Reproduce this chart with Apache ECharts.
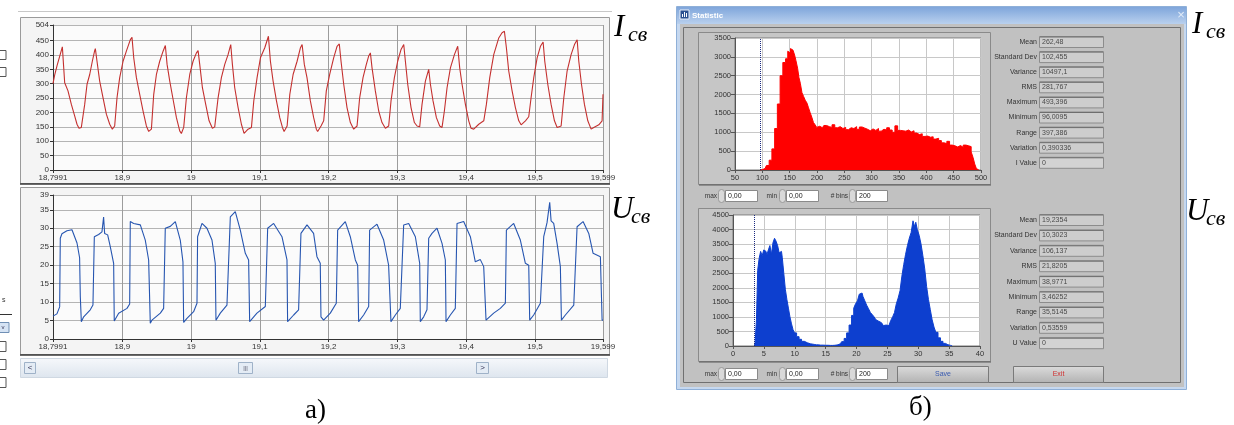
<!DOCTYPE html>
<html><head><meta charset="utf-8">
<script src="https://cdn.jsdelivr.net/npm/echarts@6/dist/echarts.min.js"></script>
<style>html,body{margin:0;padding:0;background:#fff}#c{width:1234px;height:425px}</style>
</head><body><div id="c"></div>
<script>
// ---------- data ----------
const timeTicks = [18.7991, 18.9, 19.0, 19.1, 19.2, 19.3, 19.4, 19.5, 19.599];
const currentTicks = [0, 50, 100, 150, 200, 250, 300, 350, 400, 450, 504];
const voltageTicks = [0, 5, 10, 15, 20, 25, 30, 35, 39];

const currentSignal = [
[18.7991,300],[18.8015,330],[18.8049,362],[18.8088,395],[18.8127,428],[18.8161,303],[18.8209,275],[18.8258,228],[18.8306,188],[18.8340,159],[18.8369,145],[18.8403,148],[18.8428,153],[18.8452,228],[18.8486,298],[18.8525,332],[18.8563,378],[18.8597,415],[18.8607,422],
[18.8631,378],[18.8670,309],[18.8719,251],[18.8767,194],[18.8816,159],[18.8854,142],[18.8888,153],[18.8922,251],[18.8961,321],[18.9010,378],[18.9058,413],[18.9116,453],[18.9140,461],
[18.9165,390],[18.9204,321],[18.9252,263],[18.9301,205],[18.9349,153],[18.9383,134],[18.9422,142],[18.9456,263],[18.9495,332],[18.9543,378],[18.9592,413],[18.9625,433],
[18.9650,367],[18.9689,309],[18.9737,246],[18.9786,182],[18.9834,136],[18.9858,127],[18.9892,148],[18.9931,251],[18.9980,332],[19.0028,378],[19.0077,407],[19.0101,415],
[19.0125,367],[19.0164,286],[19.0212,228],[19.0261,171],[19.0309,145],[19.0343,150],[19.0392,251],[19.0440,321],[19.0489,367],[19.0537,401],[19.0576,436],
[19.0600,367],[19.0634,286],[19.0683,217],[19.0731,159],[19.0770,127],[19.0828,142],[19.0877,148],[19.0911,240],[19.0959,321],[19.1008,390],[19.1071,425],[19.1124,465],
[19.1153,378],[19.1192,309],[19.1241,240],[19.1289,182],[19.1328,148],[19.1352,134],[19.1396,153],[19.1435,263],[19.1483,332],[19.1541,378],[19.1590,425],[19.1614,436],
[19.1646,367],[19.1685,321],[19.1734,240],[19.1782,182],[19.1821,142],[19.1840,134],[19.1889,153],[19.1928,171],[19.1966,275],[19.2015,332],[19.2073,390],[19.2122,430],[19.2155,438],
[19.2180,378],[19.2219,298],[19.2267,217],[19.2316,165],[19.2364,142],[19.2413,153],[19.2451,251],[19.2500,321],[19.2548,367],[19.2582,396],[19.2607,407],
[19.2631,355],[19.2679,275],[19.2728,205],[19.2776,165],[19.2825,145],[19.2873,153],[19.2907,240],[19.2956,321],[19.3004,378],[19.3053,419],[19.3092,436],
[19.3116,378],[19.3150,298],[19.3198,217],[19.3247,165],[19.3286,153],[19.3324,150],[19.3358,228],[19.3407,309],[19.3455,350],
[19.3480,298],[19.3518,240],[19.3567,182],[19.3615,153],[19.3649,148],[19.3683,205],[19.3722,286],[19.3771,355],[19.3829,401],[19.3877,430],
[19.3906,355],[19.3940,298],[19.3989,228],[19.4037,171],[19.4071,145],[19.4110,142],[19.4183,159],[19.4256,171],[19.4294,228],[19.4343,321],[19.4401,401],[19.4474,459],[19.4522,477],[19.4556,482],
[19.4585,425],[19.4619,344],[19.4668,275],[19.4716,217],[19.4765,171],[19.4799,157],[19.4862,171],[19.4910,185],[19.4944,251],[19.4983,321],[19.5032,390],[19.5080,430],[19.5119,445],
[19.5143,378],[19.5187,298],[19.5235,228],[19.5284,171],[19.5323,148],[19.5347,142],[19.5381,153],[19.5420,251],[19.5468,344],[19.5526,401],[19.5575,436],[19.5614,453],
[19.5638,378],[19.5677,298],[19.5720,228],[19.5769,171],[19.5817,142],[19.5856,148],[19.5929,157],[19.5977,171],[19.5990,263]
];

const voltageSignal = [
[18.7991,6.2],[18.8048,6.8],[18.8088,8.7],[18.8097,27.3],[18.8121,28.5],[18.8194,29.3],[18.8267,29.6],[18.8340,26],[18.8378,22],[18.8388,11.5],[18.8403,4.7],
[18.8437,6],[18.8533,7.9],[18.8572,9.2],[18.8592,27.7],[18.8655,28.3],[18.8703,29],[18.8727,33],[18.8742,28.6],[18.8786,28.2],[18.8824,25],[18.8873,20.5],[18.8882,4.9],
[18.8946,7],[18.9067,8.3],[18.9106,9.5],[18.9115,31.8],[18.9164,31.3],[18.9261,30.9],[18.9333,26.8],[18.9382,21.4],[18.9406,4.3],
[18.9430,5.1],[18.9552,7],[18.9600,8.3],[18.9624,30],[18.9697,30.5],[18.9770,31.8],[18.9842,26.8],[18.9881,20.9],[18.9891,4.5],
[18.9939,5.6],[19.0036,7.4],[19.0085,9.7],[19.0094,27.7],[19.0158,31.3],[19.0230,30],[19.0303,26.8],[19.0351,20.5],[19.0361,5.1],
[19.0424,7],[19.0521,9.2],[19.0570,33.1],[19.0642,34.5],[19.0715,29.5],[19.0788,23.2],[19.0836,21.4],[19.0851,4.7],
[19.0957,7],[19.1079,8.8],[19.1113,30],[19.1200,31.3],[19.1321,27.7],[19.1394,21.4],[19.1403,4.7],
[19.1491,6.5],[19.1563,7.9],[19.1597,28.6],[19.1685,30.9],[19.1781,28.6],[19.1830,22.3],[19.1878,20.5],[19.1888,6],[19.1927,5.1],
[19.2024,7],[19.2111,9.7],[19.2131,29.5],[19.2242,31.8],[19.2315,27.7],[19.2388,21.4],[19.2422,20],[19.2436,4.7],
[19.2509,6.5],[19.2582,8.8],[19.2596,29.5],[19.2703,31.1],[19.2800,26.8],[19.2872,20],[19.2906,4.7],
[19.2970,6.5],[19.3042,8.3],[19.3091,30.9],[19.3164,31.3],[19.3261,27.7],[19.3324,20.5],[19.3333,4.7],
[19.3382,6],[19.3430,7.9],[19.3455,27.3],[19.3503,28.6],[19.3576,30],[19.3649,25.9],[19.3697,21.4],[19.3707,4.7],
[19.3770,6.5],[19.3842,8.3],[19.3867,31.3],[19.3964,31.8],[19.4061,27.7],[19.4133,20.9],[19.4206,21.5],[19.4255,19.6],[19.4289,5.1],
[19.4400,7],[19.4497,8.3],[19.4570,9.7],[19.4585,29.5],[19.4691,31.3],[19.4788,26.8],[19.4861,20.5],[19.4910,20],[19.4924,5.1],
[19.4982,6.5],[19.5079,9.7],[19.5128,27.7],[19.5176,31.5],[19.5215,37],[19.5235,32],[19.5273,31.3],[19.5322,25.9],[19.5370,19.6],[19.5385,5.1],
[19.5443,6.5],[19.5565,9.2],[19.5613,30.4],[19.5700,31.8],[19.5783,28.6],[19.5846,23.2],[19.5952,22.3],[19.5977,5.1],[19.5990,5.1]
];

const currentHist = [
[96,0],[100,10],[105,40],[110,120],[115,260],[120,560],[125,1100],[130,1750],[135,2500],[140,2850],[145,2950],[148,3150],[150,3100],[153,3220],[156,3180],[158,3210],[160,3050],[163,2900],[166,2700],[168,2450],[171,2300],[174,2050],[177,1950],[180,1850],[183,1780],[186,1650],[189,1520],[192,1400],[195,1260],[198,1200],
[201,1130],[205,1160],[210,1120],[215,1180],[220,1150],[225,1130],[230,1200],[235,1120],[240,1150],[245,1100],[250,1130],[255,1070],[260,1120],[265,1100],[270,1150],[275,1080],[280,1140],[285,1110],[290,1080],[295,1040],[300,1090],[305,1050],[310,1100],[315,1030],[320,1080],[325,1060],[330,1120],[335,1060],[340,1000],[345,1170],[350,1050],[355,1040],[360,1030],[365,1060],[370,1010],[375,1040],[380,980],[385,940],[390,960],[395,890],[400,900],[405,870],[410,880],[415,820],[420,840],[425,780],[430,720],[435,700],[440,760],[445,660],[450,640],[455,610],[460,650],[465,600],[470,660],[475,640],[480,620],[484,480],[487,330],[490,160],[493,40],[496,0]
];

const voltageHist = [
[3.46,0],[3.7,120],[3.9,900],[4.1,2600],[4.35,3000],[4.6,3250],[4.85,3100],[5.1,3300],[5.35,3250],[5.6,3120],[5.85,3300],[6.1,3450],[6.35,3150],[6.6,3550],[6.85,3700],[7.1,3600],[7.35,3450],[7.6,3200],[7.85,3250],[8.1,3050],[8.35,2500],[8.6,1950],[8.85,1600],[9.1,1300],[9.35,1000],[9.6,760],[9.85,560],[10.1,450],[10.5,320],[10.9,230],[11.3,160],[11.8,110],[12.3,75],[12.8,55],[13.5,40],[14.2,30],[15,25],[15.8,20],[16.5,25],[17.0,40],[17.4,80],[17.8,150],[18.2,260],[18.6,450],[19.0,720],[19.4,1050],[19.7,1300],[20.0,1450],[20.3,1550],[20.6,1780],[20.9,1820],[21.2,1700],[21.5,1550],[21.8,1400],[22.1,1280],[22.4,1150],[22.7,1080],[23.0,1000],[23.3,900],[23.6,850],[23.9,800],[24.2,760],[24.5,700],[24.8,720],[25.1,700],[25.4,760],[25.7,880],[26.0,1000],[26.3,1150],[26.6,1450],[26.9,1650],[27.2,1900],[27.5,2400],[27.8,2800],[28.1,3150],[28.4,3450],[28.7,3700],[29.0,3900],[29.3,4300],[29.5,4100],[29.7,4250],[30.0,4000],[30.3,3800],[30.6,3500],[30.9,3100],[31.2,2650],[31.5,2050],[31.8,1600],[32.1,1250],[32.4,900],[32.7,650],[33.0,470],[33.4,280],[33.8,160],[34.2,90],[34.6,45],[35.0,20],[35.5,0]
];

const statLabelsI = ['Mean','Standard Dev','Variance','RMS','Maximum','Minimum','Range','Variation','I Value'];
const statLabelsU = ['Mean','Standard Dev','Variance','RMS','Maximum','Minimum','Range','Variation','U Value'];
const statValuesI = ['262,48','102,455','10497,1','281,767','493,396','96,0095','397,386','0,390336','0'];
const statValuesU = ['19,2354','10,3023','106,137','21,8205','38,9771','3,46252','35,5145','0,53559','0'];
const currentMin = 96.0095;
const voltageMin = 3.46252;
const controlLabels = ['max', 'min', '# bins'];
const controlValues = ['0,00', '0,00', '200'];

// ---------- chart ----------
const chart = echarts.init(document.getElementById('c'), null, {renderer: 'canvas'});
const SANS = '"Liberation Sans", Arial, sans-serif';
const SERIF = '"Liberation Serif", "Times New Roman", serif';
const fmtComma = v => String(Math.round(v * 10000) / 10000).replace('.', ',');
const fmtPlain = v => String(v);

function timeAxis(gi) {
  return {
    type: 'value', gridIndex: gi, min: timeTicks[0], max: timeTicks[timeTicks.length - 1],
    axisLine: {show: true, lineStyle: {color: '#333', width: 1}},
    axisTick: {show: true, customValues: timeTicks, length: 3, lineStyle: {color: '#333'}},
    axisLabel: {customValues: timeTicks, formatter: fmtComma, fontSize: 8, fontFamily: SANS, color: '#333', margin: 4},
    splitLine: {show: true, lineStyle: {color: '#9c9c9c', width: 1}}
  };
}
function leftYAxis(gi, ticks) {
  return {
    type: 'value', gridIndex: gi, min: 0, max: ticks[ticks.length - 1],
    axisLine: {show: true, lineStyle: {color: '#333', width: 1}},
    axisTick: {show: true, customValues: ticks, length: 3, lineStyle: {color: '#333'}},
    axisLabel: {customValues: ticks, formatter: fmtPlain, fontSize: 8, fontFamily: SANS, color: '#333', margin: 4},
    splitLine: {show: true, lineStyle: {color: '#b4b4b4', width: 1}}
  };
}
function histXAxis(gi, mn, mx, iv) {
  return {
    type: 'value', gridIndex: gi, min: mn, max: mx, interval: iv,
    axisLine: {show: true, lineStyle: {color: '#555'}},
    axisTick: {show: true, length: 3, lineStyle: {color: '#555'}},
    axisLabel: {formatter: fmtPlain, fontSize: 7.5, fontFamily: SANS, color: '#333', margin: 4, showMaxLabel: true, showMinLabel: true},
    splitLine: {show: true, lineStyle: {color: '#c8c8c8'}}
  };
}
function histYAxis(gi, mx) {
  return {
    type: 'value', gridIndex: gi, min: 0, max: mx, interval: 500,
    axisLine: {show: true, lineStyle: {color: '#555'}},
    axisTick: {show: true, length: 4, lineStyle: {color: '#555'}},
    axisLabel: {formatter: fmtPlain, fontSize: 7.5, fontFamily: SANS, color: '#333', margin: 4},
    splitLine: {show: true, lineStyle: {color: '#c8c8c8'}}
  };
}

// ---------- UI chrome (graphic) ----------
const g = [];
let zc = -400;
function R(x, y, w, h, fill, stroke, extra) {
  g.push(Object.assign({type: 'rect', silent: true, z: zc++, shape: {x, y, width: w, height: h},
    style: {fill: fill || 'transparent', stroke: stroke || null, lineWidth: 1}}, extra || {}));
}
function L(x1, y1, x2, y2, stroke, lw) {
  g.push({type: 'line', silent: true, z: zc++, shape: {x1, y1, x2, y2}, style: {stroke, lineWidth: lw || 1}});
}
function T(x, y, text, o) {
  const st = Object.assign({text, fill: '#222', font: '7px ' + SANS, align: 'left', verticalAlign: 'middle'}, o || {});
  st.textAlign = st.align; st.textVerticalAlign = st.verticalAlign;
  g.push({type: 'text', silent: true, z: 60, x, y, style: st});
}

// left panel (a)
L(18, 11.5, 612, 11.5, '#c8c8c8');
R(20.5, 17.5, 589, 166, '#f4f4f4', '#9a9a9a');
L(20, 184, 610, 184, '#3a3a3a', 1.5);
R(20.5, 187.5, 589, 167, '#f4f4f4', '#9a9a9a');
L(20, 355, 610, 355, '#3a3a3a', 1.5);
R(20.5, 358.5, 587, 19, {type: 'linear', x: 0, y: 0, x2: 0, y2: 1, colorStops: [{offset: 0, color: '#f6f8fb'}, {offset: 1, color: '#dde5ee'}]}, '#cfd8e2');
R(24.5, 362.5, 11, 11, '#e4ecf5', '#9fb2c8');
T(30, 368, '<', {font: '8px ' + SANS, align: 'center', fill: '#335'});
R(238.5, 362.5, 14, 11, '#e4ecf5', '#9fb2c8');
T(245.5, 368, '|||', {font: '6px ' + SANS, align: 'center', fill: '#556'});
R(476.5, 362.5, 12, 11, '#e4ecf5', '#9fb2c8');
T(482.5, 368, '>', {font: '8px ' + SANS, align: 'center', fill: '#335'});
// cut-off controls on the far left
R(-4, 50.5, 10, 9, '#fff', '#555');
R(-4, 67.5, 10, 9, '#fff', '#555');
T(2, 300, 's', {font: '7px ' + SANS, fill: '#333'});
L(0, 314.5, 12, 314.5, '#333');
R(-2, 322.5, 11, 10, '#d5e3f4', '#6f8fb5');
T(3, 327.5, 'v', {font: '6px ' + SANS, fill: '#335', align: 'center'});
R(-4, 341.5, 10, 10, '#fff', '#555');
R(-4, 359.5, 10, 10, '#fff', '#555');
R(-4, 377.5, 10, 10, '#fff', '#555');

// right window (b)
R(676.5, 6.5, 510, 383, '#c6d8ef', '#8fb0d8');
R(677, 7, 509, 17, {type: 'linear', x: 0, y: 0, x2: 0, y2: 1, colorStops: [{offset: 0, color: '#7fa6db'}, {offset: 1, color: '#b9d0ee'}]}, null);
R(680, 10, 9, 9, '#2b5190', '#e8eef8');
L(682.5, 17, 682.5, 14, '#fff'); L(684.5, 17, 684.5, 12, '#fff'); L(686.5, 17, 686.5, 13, '#fff');
T(692, 15.5, 'Statistic', {font: 'bold 8px ' + SANS, fill: '#fff'});
T(1181, 15, '\u00d7', {font: '13px ' + SANS, fill: '#e3ecf8', align: 'center'});
R(680, 24, 504, 363, '#c1c1c1', null);
R(683.5, 27.5, 497, 355, 'transparent', '#707070');
R(698.5, 32.5, 292, 152, '#c6c6c6', '#8a8a8a');
L(699, 185, 991, 185, '#5a5a5a');
R(698.5, 208.5, 292, 153, '#c6c6c6', '#8a8a8a');
L(699, 362, 991, 362, '#5a5a5a');

function statBlock(labels, values, y0, dy) {
  labels.forEach((lab, i) => {
    const y = y0 + i * dy;
    R(1039.5, y - 5.5, 64, 11, i === labels.length - 1 ? '#d3d3d3' : '#cdcdcd', '#8c8c8c');
    L(1040, y - 5, 1103, y - 5, '#6e6e6e');
    T(1037, y, lab, {align: 'right', fill: '#333'});
    T(1042, y, values[i], {fill: '#4a4a4a'});
  });
}
statBlock(statLabelsI, statValuesI, 42, 15.1);
statBlock(statLabelsU, statValuesU, 220, 15.4);

function controlRow(y) {
  const xs = [[717, 718, 725, 32], [777, 779, 786, 32], [848, 849, 856, 31]];
  xs.forEach((p, i) => {
    T(p[0], y, controlLabels[i], {align: 'right', fill: '#333', font: '6.5px ' + SANS});
    R(p[1] + 0.5, y - 6.5, 6, 13, '#d9d9d9', '#9a9a9a', {shape: {x: p[1] + 0.5, y: y - 6.5, width: 6, height: 13, r: 3}});
    R(p[2] + 0.5, y - 5.5, p[3], 11, '#fff', '#8a8a8a');
    T(p[2] + 3, y, controlValues[i], {fill: '#222'});
  });
}
controlRow(196);
controlRow(374);
const btnFill = {type: 'linear', x: 0, y: 0, x2: 0, y2: 1, colorStops: [{offset: 0, color: '#dcdcdc'}, {offset: 1, color: '#b2b2b2'}]};
R(897.5, 366.5, 91, 16, btnFill, '#7a7a7a');
T(943, 374.5, 'Save', {align: 'center', fill: '#3a5bb0', font: '7px ' + SANS});
R(1013.5, 366.5, 90, 16, btnFill, '#7a7a7a');
T(1058.5, 374.5, 'Exit', {align: 'center', fill: '#d03030', font: '7px ' + SANS});

// serif labels
function symLabel(x, y, main, sub) {
  T(x, y, main, {font: 'italic 31px ' + SERIF, fill: '#000', verticalAlign: 'bottom'});
  T(x + (main === 'I' ? 14 : 20), y + 3, sub, {font: 'italic 22px ' + SERIF, fill: '#000', verticalAlign: 'bottom'});
}
symLabel(614, 43, 'I', 'св');
symLabel(1192, 40, 'I', 'св');
symLabel(611, 225, 'U', 'св');
symLabel(1186, 227, 'U', 'св');
T(305, 424, 'а)', {font: '27px ' + SERIF, fill: '#000', verticalAlign: 'bottom'});
T(909, 421, 'б)', {font: '27px ' + SERIF, fill: '#000', verticalAlign: 'bottom'});

const option = {
  animation: false,
  backgroundColor: '#ffffff',
  grid: [
    {left: 53, top: 25, width: 550, height: 145, show: true, backgroundColor: '#fbfbfb', borderWidth: 0},
    {left: 53, top: 195, width: 550, height: 144, show: true, backgroundColor: '#fbfbfb', borderWidth: 0},
    {left: 735, top: 38, width: 246, height: 132, show: true, backgroundColor: '#ffffff', borderColor: '#7a7a7a', borderWidth: 1},
    {left: 733, top: 215, width: 247, height: 131, show: true, backgroundColor: '#ffffff', borderColor: '#7a7a7a', borderWidth: 1}
  ],
  xAxis: [timeAxis(0), timeAxis(1), histXAxis(2, 50, 500, 50), histXAxis(3, 0, 40, 5)],
  yAxis: [leftYAxis(0, currentTicks), leftYAxis(1, voltageTicks), histYAxis(2, 3500), histYAxis(3, 4500)],
  series: [
    {type: 'line', xAxisIndex: 0, yAxisIndex: 0, data: currentSignal, symbol: 'none', lineStyle: {color: '#c4302f', width: 1.1}},
    {type: 'line', xAxisIndex: 1, yAxisIndex: 1, data: voltageSignal, symbol: 'none', lineStyle: {color: '#2655b0', width: 1.1}},
    {type: 'line', xAxisIndex: 2, yAxisIndex: 2, data: currentHist, symbol: 'none', step: 'middle',
      lineStyle: {color: '#ff0000', width: 1}, areaStyle: {color: '#ff0000', opacity: 1},
      markLine: {symbol: 'none', silent: true, label: {show: false}, lineStyle: {type: 'dotted', color: '#1b2a80', width: 1}, data: [{xAxis: currentMin}]}},
    {type: 'line', xAxisIndex: 3, yAxisIndex: 3, data: voltageHist, symbol: 'none', step: 'middle',
      lineStyle: {color: '#0d3fcf', width: 1}, areaStyle: {color: '#0d3fcf', opacity: 1},
      markLine: {symbol: 'none', silent: true, label: {show: false}, lineStyle: {type: 'dotted', color: '#1b2a80', width: 1}, data: [{xAxis: voltageMin}]}}
  ],
  graphic: {elements: g}
};
chart.setOption(option);
</script></body></html>
